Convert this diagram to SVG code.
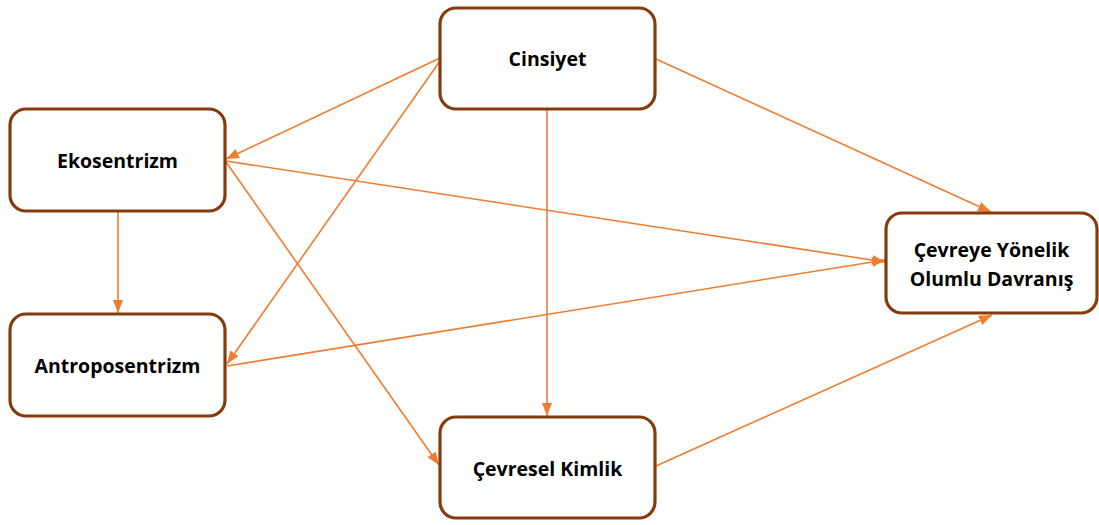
<svg xmlns="http://www.w3.org/2000/svg" width="1099" height="525" viewBox="0 0 1099 525">
<style>
.box{fill:#fff;stroke:#843C0C;stroke-width:3.2}
.lbl{font-family:"Open Sans","Liberation Sans",sans-serif;font-weight:bold;font-size:19.5px;fill:#000;text-anchor:middle}
.con{stroke:#ED7D31;stroke-width:1.6;fill:none;marker-end:url(#ah)}
</style>
<defs>
<marker id="ah" markerUnits="userSpaceOnUse" markerWidth="14" markerHeight="12" refX="13" refY="5" orient="auto">
<path d="M0,0 L13,5 L0,10 Z" fill="#ED7D31"/>
</marker>
</defs>
<rect width="1099" height="525" fill="#fff"/>
<g id="connectors">
<line class="con" x1="440" y1="58" x2="226" y2="159"/>
<line class="con" x1="440" y1="61" x2="227" y2="364"/>
<line class="con" x1="547" y1="110" x2="547" y2="416"/>
<line class="con" x1="656" y1="59" x2="991" y2="212"/>
<line class="con" x1="226" y1="161" x2="885" y2="262"/>
<line class="con" x1="226" y1="162" x2="439" y2="465"/>
<line class="con" x1="118" y1="212" x2="118" y2="313"/>
<line class="con" x1="227" y1="366" x2="885" y2="260"/>
<line class="con" x1="656" y1="466" x2="992" y2="315"/>
</g>
<g id="cinsiyet">
<rect class="box" x="440" y="8" width="215" height="101" rx="16"/>
<text class="lbl" x="547.5" y="66">Cinsiyet</text>
</g>
<g id="ekosentrizm">
<rect class="box" x="10" y="109" width="215" height="102" rx="16"/>
<text class="lbl" x="117.5" y="168">Ekosentrizm</text>
</g>
<g id="antroposentrizm">
<rect class="box" x="10" y="314" width="215" height="102" rx="16"/>
<text class="lbl" x="117.5" y="373">Antroposentrizm</text>
</g>
<g id="cevresel-kimlik">
<rect class="box" x="440" y="417" width="215" height="101" rx="16"/>
<text class="lbl" x="547.5" y="476">Çevresel Kimlik</text>
</g>
<g id="cevreye">
<rect class="box" x="886" y="213" width="211" height="100" rx="16"/>
<text class="lbl" x="991.5" y="257">Çevreye Yönelik</text>
<text class="lbl" x="991.5" y="286">Olumlu Davranış</text>
</g>
</svg>
